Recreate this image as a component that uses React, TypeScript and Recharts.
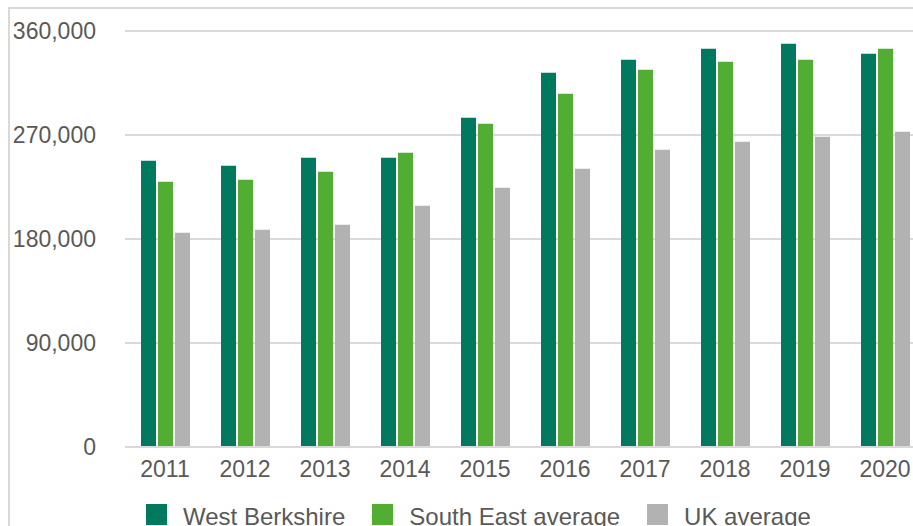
import { BarChart, Bar, XAxis, YAxis, CartesianGrid, Legend } from "recharts";

const YEARS = ["2011", "2012", "2013", "2014", "2015", "2016", "2017", "2018", "2019", "2020"];
const WEST_BERKSHIRE = [247800, 243400, 250400, 250400, 285000, 323900, 335200, 344700, 349000, 340400];
const SOUTH_EAST = [229600, 231300, 238200, 254700, 279800, 305800, 326500, 333400, 335200, 344700];
const UK_AVERAGE = [185500, 188100, 192400, 208800, 224400, 240900, 257300, 264200, 268500, 272900];
const Y_TICKS = [0, 90000, 180000, 270000, 360000];

const SERIES = [
  { key: "wb", name: "West Berkshire", color: "#00795f" },
  { key: "se", name: "South East average", color: "#52ae32" },
  { key: "uk", name: "UK average", color: "#b2b2b2" },
];

const data = YEARS.map((year, i) => ({
  year,
  wb: WEST_BERKSHIRE[i],
  se: SOUTH_EAST[i],
  uk: UK_AVERAGE[i],
}));

const FONT = '"Liberation Sans", Arial, sans-serif';
const TEXT = "#595959";
const GRID = "#d9d9d9";

function LegendRow() {
  return (
    <div style={{ display: "flex", alignItems: "flex-start", fontFamily: FONT, fontSize: 24, lineHeight: "28px", color: TEXT }}>
      {SERIES.map((s) => (
        <div key={s.key} style={{ display: "flex", alignItems: "flex-start", marginRight: 27 }}>
          <div style={{ width: 21, height: 21, marginTop: 1, marginRight: 16, background: s.color }} />
          <span style={{ whiteSpace: "nowrap" }}>{s.name}</span>
        </div>
      ))}
    </div>
  );
}

export default function App() {
  return (
    <div style={{ position: "absolute", left: 0, top: 0, width: 913, height: 526, overflow: "hidden", background: "#fff" }}>
      <div
        style={{
          position: "absolute",
          left: 8,
          top: 7,
          width: 1000,
          height: 600,
          border: `2px solid ${GRID}`,
          boxSizing: "border-box",
        }}
      />
      <div style={{ position: "absolute", left: 0, top: 0 }}>
        <BarChart
          width={940}
          height={560}
          data={data}
          margin={{ top: 31, right: 15, left: 0, bottom: 73 }}
          barSize={15}
          barGap={2}
        >
          <CartesianGrid vertical={false} stroke={GRID} strokeWidth={2} />
          <XAxis
            dataKey="year"
            height={40}
            tickLine={false}
            tickSize={0}
            tickMargin={14}
            axisLine={{ stroke: GRID, strokeWidth: 2 }}
            tick={{ fill: TEXT, fontSize: 23, fontFamily: FONT }}
          />
          <YAxis
            width={125}
            domain={[0, 360000]}
            ticks={Y_TICKS}
            axisLine={false}
            tickLine={false}
            tickSize={0}
            tickMargin={29}
            tickFormatter={(v: number) => v.toLocaleString("en-GB")}
            tick={{ fill: TEXT, fontSize: 23, fontFamily: FONT }}
          />
          <Legend
            verticalAlign="middle"
            layout="horizontal"
            align="center"
            wrapperStyle={{ top: 503, left: 146, width: 760 }}
            content={() => <LegendRow />}
          />
          {SERIES.map((s) => (
            <Bar key={s.key} dataKey={s.key} name={s.name} fill={s.color} isAnimationActive={false} />
          ))}
        </BarChart>
      </div>
    </div>
  );
}
